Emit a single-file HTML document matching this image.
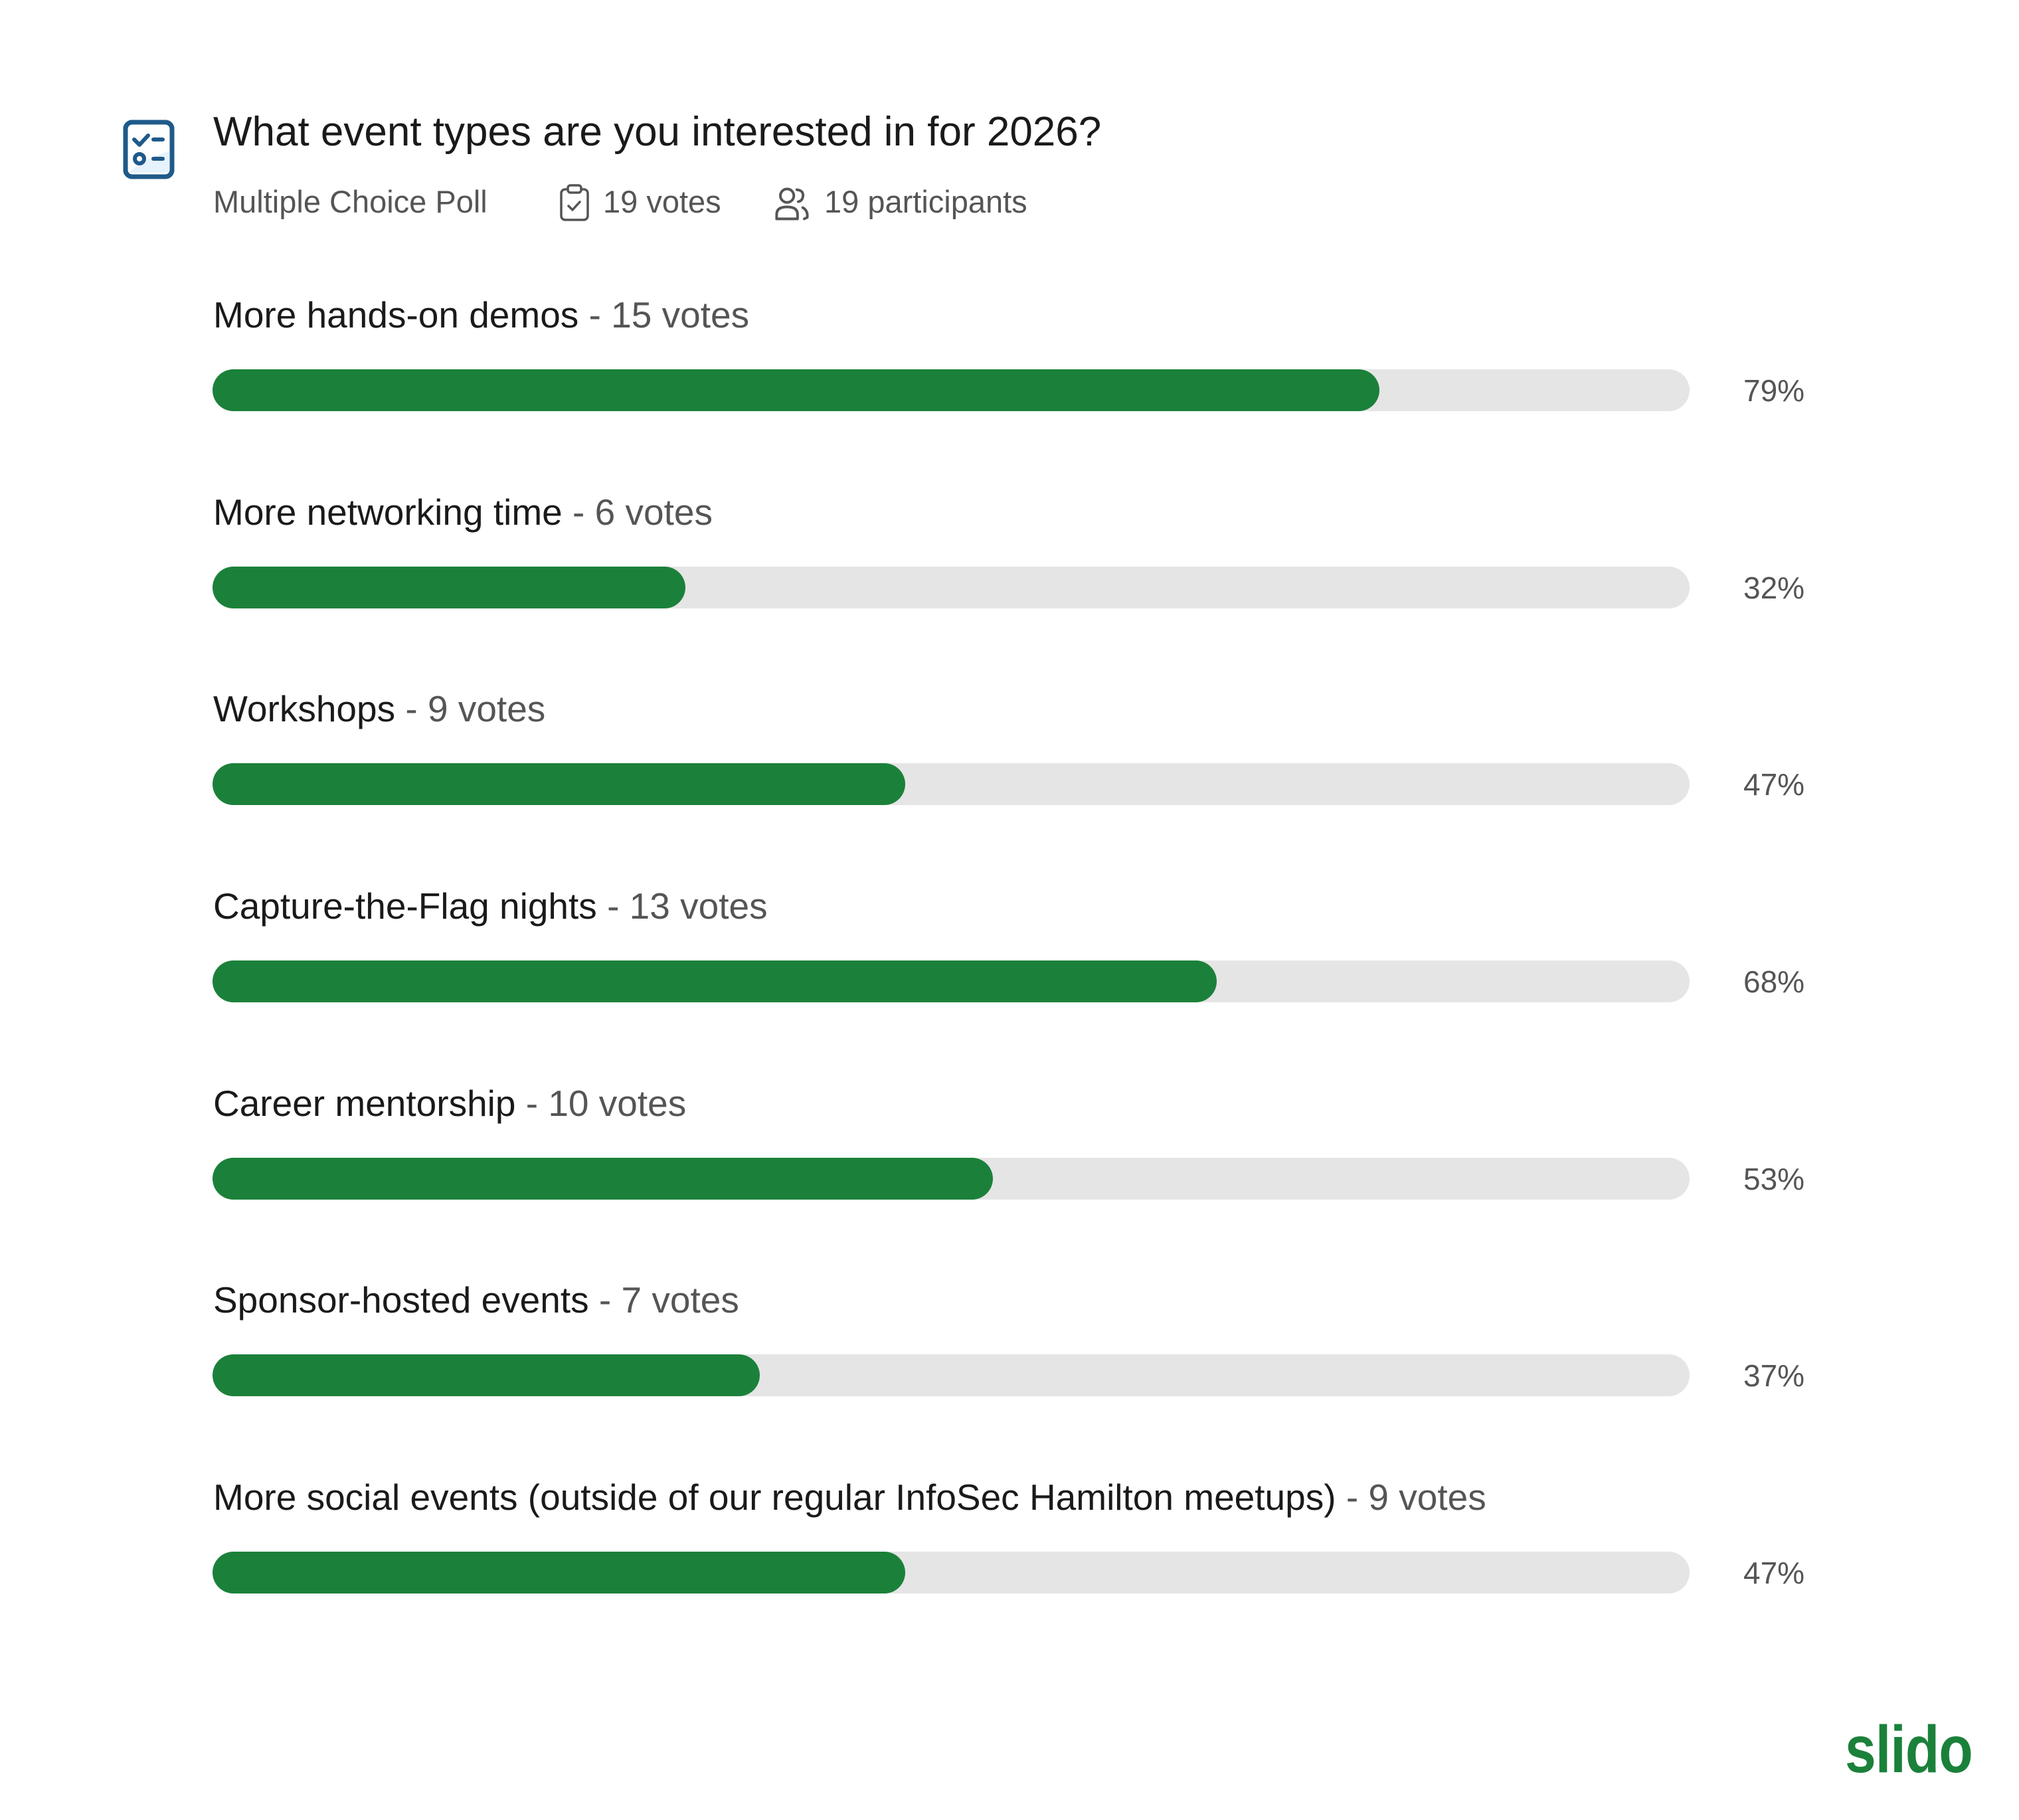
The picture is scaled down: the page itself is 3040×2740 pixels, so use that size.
<!DOCTYPE html>
<html><head><meta charset="utf-8"><style>
html,body{margin:0;padding:0;background:#fff;}
body{width:3040px;height:2740px;position:relative;overflow:hidden;font-family:"Liberation Sans",Arial,sans-serif;}
.a{position:absolute;white-space:nowrap;}
.title{left:321px;top:168px;font-size:62px;color:#1a1a1a;line-height:1;}
.sub{top:280px;font-size:47px;color:#555;line-height:1;}
.lbl{left:321px;font-size:55px;color:#1a1a1a;line-height:1;}
.lbl span{color:#555;}
.track{left:320px;width:2224px;height:63px;border-radius:32px;background:#e5e5e5;}
.fill{position:absolute;left:0;top:0;height:63px;border-radius:32px;background:#1b813a;}
.pct{left:2625px;font-size:46px;color:#555;line-height:1;}
.slido{left:2778px;top:2584px;font-size:100px;font-weight:bold;color:#1b813a;line-height:1;transform:scaleX(0.84);transform-origin:left top;letter-spacing:-1px;}
</style></head><body>
<svg class="a" style="left:185px;top:180px" width="78" height="90" viewBox="0 0 78 90">
<rect x="4" y="4" width="70" height="82" rx="10" fill="#fff" stroke="#1f5a8a" stroke-width="7"/>
<path d="M8 80 Q40 55 70 48 L70 80 Z" fill="#e6f2fc"/>
<rect x="4" y="4" width="70" height="82" rx="10" fill="none" stroke="#1f5a8a" stroke-width="7"/>
<path d="M17 30 L25 38 L38 24" fill="none" stroke="#1f5a8a" stroke-width="6" stroke-linecap="round" stroke-linejoin="round"/>
<line x1="46" y1="30" x2="60" y2="30" stroke="#1f5a8a" stroke-width="6" stroke-linecap="round"/>
<circle cx="25" cy="59" r="7" fill="none" stroke="#1f5a8a" stroke-width="6"/>
<line x1="46" y1="59" x2="60" y2="59" stroke="#1f5a8a" stroke-width="6" stroke-linecap="round"/>
</svg>
<div class="a title">What event types are you interested in for 2026?</div>
<div class="a sub" style="left:321px">Multiple Choice Poll</div>
<svg class="a" style="left:843px;top:277px" width="44" height="56" viewBox="0 0 44 56">
<rect x="2" y="8" width="40" height="46" rx="6" fill="none" stroke="#555" stroke-width="3.5"/>
<rect x="12" y="2" width="20" height="11" rx="4" fill="#fff" stroke="#555" stroke-width="3.5"/>
<path d="M13 33 L19 39 L30 27" fill="none" stroke="#555" stroke-width="3.5" stroke-linecap="round" stroke-linejoin="round"/>
</svg>
<div class="a sub" style="left:908px">19 votes</div>
<svg class="a" style="left:1166px;top:280px" width="54" height="54" viewBox="0 0 48 48">
<circle cx="17" cy="13" r="9" fill="none" stroke="#555" stroke-width="3.5"/>
<path d="M3 44 L3 38 Q3 28 17 28 Q31 28 31 38 L31 44 Z" fill="none" stroke="#555" stroke-width="3.5" stroke-linejoin="round"/>
<path d="M30 5 Q40 6 38 15 Q37 20 32 21" fill="none" stroke="#555" stroke-width="3.5" stroke-linecap="round"/>
<path d="M38 29 Q45 33 44 42 L40 44" fill="none" stroke="#555" stroke-width="3.5" stroke-linecap="round"/>
</svg>
<div class="a sub" style="left:1241px">19 participants</div>

<div class="a lbl" style="top:447px">More hands-on demos <span>- 15 votes</span></div>
<div class="a track" style="top:556px"><div class="fill" style="width:1757px"></div></div>
<div class="a pct" style="top:565px">79%</div>

<div class="a lbl" style="top:744px">More networking time <span>- 6 votes</span></div>
<div class="a track" style="top:853px"><div class="fill" style="width:712px"></div></div>
<div class="a pct" style="top:862px">32%</div>

<div class="a lbl" style="top:1040px">Workshops <span>- 9 votes</span></div>
<div class="a track" style="top:1149px"><div class="fill" style="width:1043px"></div></div>
<div class="a pct" style="top:1158px">47%</div>

<div class="a lbl" style="top:1337px">Capture-the-Flag nights <span>- 13 votes</span></div>
<div class="a track" style="top:1446px"><div class="fill" style="width:1512px"></div></div>
<div class="a pct" style="top:1455px">68%</div>

<div class="a lbl" style="top:1634px">Career mentorship <span>- 10 votes</span></div>
<div class="a track" style="top:1743px"><div class="fill" style="width:1175px"></div></div>
<div class="a pct" style="top:1752px">53%</div>

<div class="a lbl" style="top:1930px">Sponsor-hosted events <span>- 7 votes</span></div>
<div class="a track" style="top:2039px"><div class="fill" style="width:824px"></div></div>
<div class="a pct" style="top:2048px">37%</div>

<div class="a lbl" style="top:2227px">More social events (outside of our regular InfoSec Hamilton meetups) <span>- 9 votes</span></div>
<div class="a track" style="top:2336px"><div class="fill" style="width:1043px"></div></div>
<div class="a pct" style="top:2345px">47%</div>

<div class="a slido">slido</div>
</body></html>
